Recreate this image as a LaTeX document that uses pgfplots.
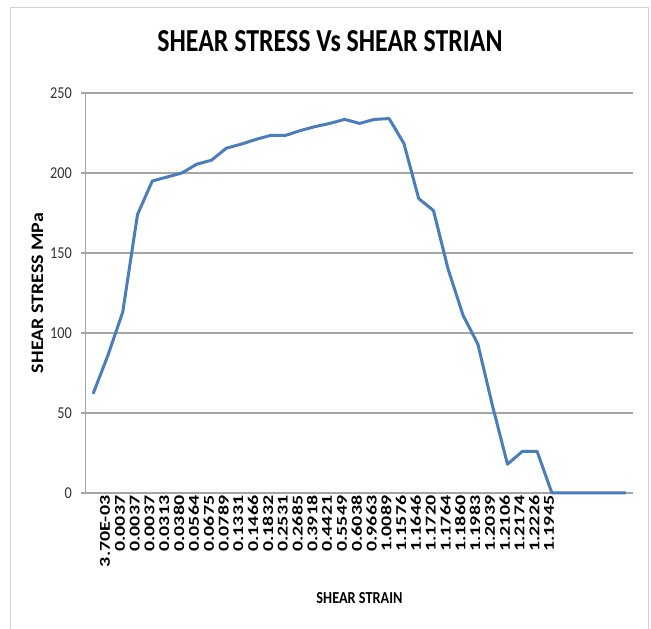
\documentclass[border=0pt]{standalone}
\usepackage{fontspec}
\setmainfont{Carlito}
\usepackage{graphicx}
\usepackage{pgfplots}
\pgfplotsset{compat=1.18}
\definecolor{linecol}{RGB}{74,126,187}
\definecolor{gridcol}{RGB}{165,165,165}
\definecolor{framecol}{RGB}{210,210,210}
\newcommand\xtl[1]{\scalebox{1.33}[1]{\bfseries\fontsize{15}{16}\selectfont #1}}
\newcommand\ytl[1]{\scalebox{0.86}[1]{\fontsize{16.6}{18}\selectfont #1}}
\begin{document}
\begin{tikzpicture}
\useasboundingbox (0,0) rectangle (651pt,629pt);
\draw[framecol, line width=1pt] (10pt,-10pt) rectangle (648pt,621pt);
\begin{axis}[
  at={(85.7pt,136pt)}, anchor=south west,
  scale only axis, width=547.6pt, height=400pt,
  xmin=-0.5, xmax=36.5, ymin=0, ymax=250,
  axis lines=left, axis line style={-, gridcol, line width=1.2pt},
  ymajorgrids, grid style={gridcol, line width=1.3pt},
  ytick={0,50,100,150,200,250},
  yticklabels={\ytl{0},\ytl{50},\ytl{100},\ytl{150},\ytl{200},\ytl{250}},
  ytick align=outside, ytick style={gridcol, line width=1.2pt}, major tick length=5pt,
  yticklabel style={anchor=east, inner sep=0pt, xshift=-8.7pt, text=black!80},
  xtick={0,...,30},
  xtick style={draw=none},
  xticklabels={\xtl{3.70E-03},\xtl{0.0037},\xtl{0.0037},\xtl{0.0037},\xtl{0.0313},\xtl{0.0380},\xtl{0.0564},\xtl{0.0675},\xtl{0.0789},\xtl{0.1331},\xtl{0.1466},\xtl{0.1832},\xtl{0.2531},\xtl{0.2685},\xtl{0.3918},\xtl{0.4421},\xtl{0.5549},\xtl{0.6038},\xtl{0.9663},\xtl{1.0089},\xtl{1.1576},\xtl{1.1646},\xtl{1.1720},\xtl{1.1764},\xtl{1.1860},\xtl{1.1983},\xtl{1.2039},\xtl{1.2106},\xtl{1.2174},\xtl{1.2226},\xtl{1.1945}},
  xticklabel style={rotate=90, anchor=east, inner sep=0pt, yshift=-12pt, text=black},
  title={\resizebox{345pt}{21pt}{\bfseries SHEAR STRESS Vs SHEAR STRIAN}},
  title style={at={(axis description cs:0.446,1.114)}, anchor=center, inner sep=0pt},
  xlabel={\resizebox{86pt}{11pt}{\bfseries SHEAR STRAIN}},
  xlabel style={at={(axis description cs:0.5,-0.2625)}, anchor=center, inner sep=0pt},
  ylabel={\resizebox{160pt}{11.5pt}{\bfseries SHEAR STRESS MPa}},
  ylabel style={at={(axis description cs:-0.088,0.5)}, anchor=center, inner sep=0pt},
  clip=false,
]
\addplot[linecol, line width=3pt, line join=round, no marks] coordinates {
(0,62) (1,86) (2,113) (3,174) (4,195) (5,197.5) (6,200) (7,205.5) (8,208)
(9,215.5) (10,218) (11,221) (12,223.5) (13,223.5) (14,226.5) (15,229) (16,231)
(17,233.5) (18,231) (19,233.5) (20,234) (21,218.5) (22,184) (23,176.5)
(24,139.5) (25,111) (26,93) (27,54) (28,18) (29,26) (30,26) (31,0)
(32,0) (33,0) (34,0) (35,0) (36,0)
};
\end{axis}
\end{tikzpicture}
\end{document}
